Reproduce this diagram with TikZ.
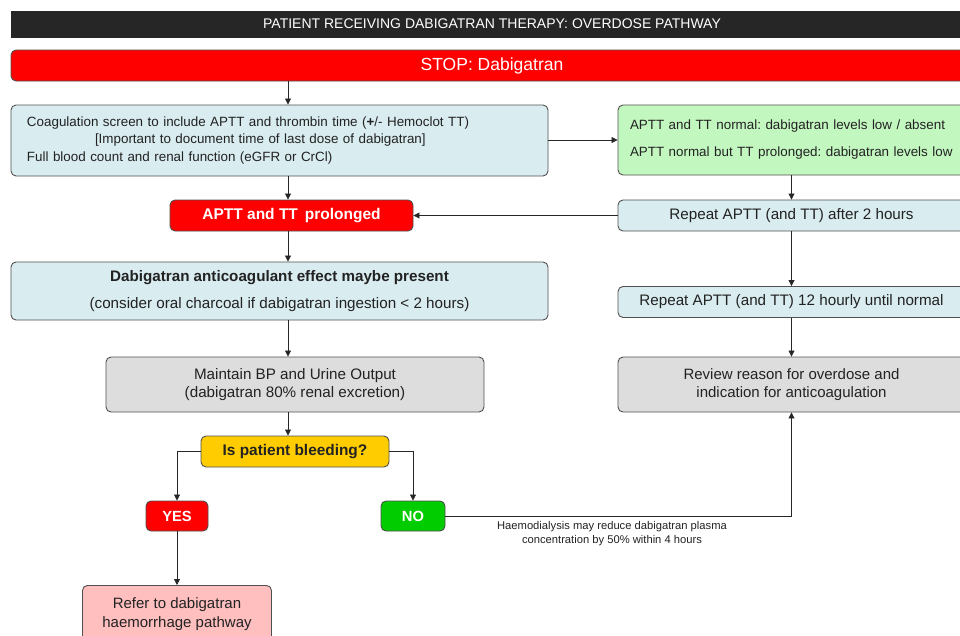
\documentclass[tikz,border=0pt]{standalone}
\usepackage{fontspec}
\setmainfont{Liberation Sans}
\usetikzlibrary{arrows.meta}
\definecolor{titlebg}{HTML}{262626}
\definecolor{stopred}{HTML}{FF0000}
\definecolor{lblue}{HTML}{D9ECF0}
\definecolor{lgreen}{HTML}{C3F7C0}
\definecolor{lgrey}{HTML}{DDDDDD}
\definecolor{yell}{HTML}{FFCC00}
\definecolor{nogreen}{HTML}{00CC00}
\definecolor{pink}{HTML}{FFBFBF}
\definecolor{edge}{HTML}{505050}
\definecolor{ink}{HTML}{222222}
\tikzset{
  box/.style={draw=edge, line width=0.9pt, rounded corners=5pt, inner sep=0pt, align=center, text=ink, font=\fontsize{15}{18}\selectfont},
  redbox/.style={box, fill=stopred, text=white, font=\bfseries\fontsize{15}{18}\selectfont},
  conn/.style={draw=black!85, line width=0.8pt},
  arr/.style={conn, -{Triangle[length=6pt,width=6pt]}}
}
\begin{document}
\frenchspacing
\begin{tikzpicture}[x=1pt,y=-1pt]
\useasboundingbox (0,0) rectangle (960,635);
\clip (0,0) rectangle (960,635);
% title
\node[fill=titlebg, text=white, minimum width=980pt, minimum height=27pt, inner sep=0pt, font=\fontsize{14}{16}\selectfont] (title) at (501,24) {\hspace*{-18pt}PATIENT RECEIVING DABIGATRAN THERAPY: OVERDOSE PATHWAY};
\node[redbox, minimum width=980pt, minimum height=31pt, font=\fontsize{17.5}{20}\selectfont] (stop) at (501,65.5) {\hspace*{-18pt}STOP: Dabigatran};
\coordinate (col) at (288,0);
% coag
\node[box, fill=lblue, minimum width=537pt, minimum height=71pt, align=left, text width=505pt, font=\fontsize{13.4}{17.5}\selectfont] (coag) at (279.5,140.5)
 {Coagulation screen to include APTT and thrombin time (\textbf{+}/- Hemoclot TT)\\
 \hspace*{68pt}[Important to document time of last dose of dabigatran]\\
 Full blood count and renal function (eGFR or CrCl)};
\node[box, fill=lgreen, minimum width=347pt, minimum height=70pt, align=left, text width=323pt, font=\fontsize{13.4}{27}\selectfont] (green) at (791.5,140)
 {APTT and TT normal: dabigatran levels low / absent\\
 APTT normal but TT prolonged: dabigatran levels low};
\node[box, fill=lblue, minimum width=347pt, minimum height=31pt, font=\fontsize{15.2}{18}\selectfont] (rep1) at (791.5,215.5) {Repeat APTT (and TT) after 2 hours};
\node[redbox, minimum width=243pt, minimum height=31pt, font=\bfseries\fontsize{15.5}{18}\selectfont] (aptt) at (291.5,215.5) {APTT and TT\, prolonged};
\node[box, fill=lblue, minimum width=537pt, minimum height=58pt, font=\fontsize{15.2}{27}\selectfont] (dabi) at (279.5,291)
 {\textbf{Dabigatran anticoagulant effect maybe present}\\
 (consider oral charcoal if dabigatran ingestion {<} 2 hours)};
\node[box, fill=lblue, minimum width=347pt, minimum height=31pt, font=\fontsize{15.2}{18}\selectfont] (rep2) at (791.5,302) {Repeat APTT (and TT) 12 hourly until normal};
\node[box, fill=lgrey, minimum width=378pt, minimum height=55pt, font=\fontsize{15.2}{18.5}\selectfont] (maint) at (295,384.5)
 {Maintain BP and Urine Output\\(dabigatran 80\% renal excretion)};
\node[box, fill=lgrey, minimum width=347pt, minimum height=55pt, font=\fontsize{15}{18.5}\selectfont] (review) at (791.5,384.5)
 {Review reason for overdose and\\indication for anticoagulation};
\node[box, fill=yell, minimum width=188pt, minimum height=31pt, font=\bfseries\fontsize{15.4}{18}\selectfont] (bleed) at (295,451.5) {Is patient bleeding?};
\node[redbox, minimum width=62pt, minimum height=30pt, font=\bfseries\fontsize{14.7}{18}\selectfont] (yes) at (177,516) {YES};
\node[box, fill=nogreen, text=white, minimum width=64pt, minimum height=30pt, font=\bfseries\fontsize{14.7}{18}\selectfont] (no) at (413,516) {NO};
\node[box, fill=pink, minimum width=189pt, minimum height=58pt, font=\fontsize{15}{19}\selectfont, anchor=north] (refer) at (177,585) {Refer to dabigatran\\haemorrhage pathway};
\node[align=center, inner sep=0pt, text=ink, font=\fontsize{11.2}{13.5}\selectfont] (haemo) at (612,533.5) {Haemodialysis may reduce dabigatran plasma\\concentration by 50\% within 4 hours};
% connectors
\draw[arr] (stop.south -| col) -- (coag.north -| col);
\draw[arr] (coag.south -| col) -- (aptt.north -| col);
\draw[arr] (aptt.south -| col) -- (dabi.north -| col);
\draw[arr] (dabi.south -| col) -- (maint.north -| col);
\draw[arr] (maint.south -| col) -- (bleed.north -| col);
\draw[arr] (coag.east |- green.west) -- (green.west);
\draw[arr] (green.south) -- (rep1.north);
\draw[arr] (rep1.west) -- (aptt.east);
\draw[arr] (rep1.south) -- (rep2.north);
\draw[arr] (rep2.south) -- (review.north);
\draw[arr] (bleed.west) -| (yes.north);
\draw[arr] (bleed.east) -| (no.north);
\draw[arr] (yes.south) -- (refer.north);
\draw[arr] (no.east) -| (review.south);
\end{tikzpicture}
\end{document}
